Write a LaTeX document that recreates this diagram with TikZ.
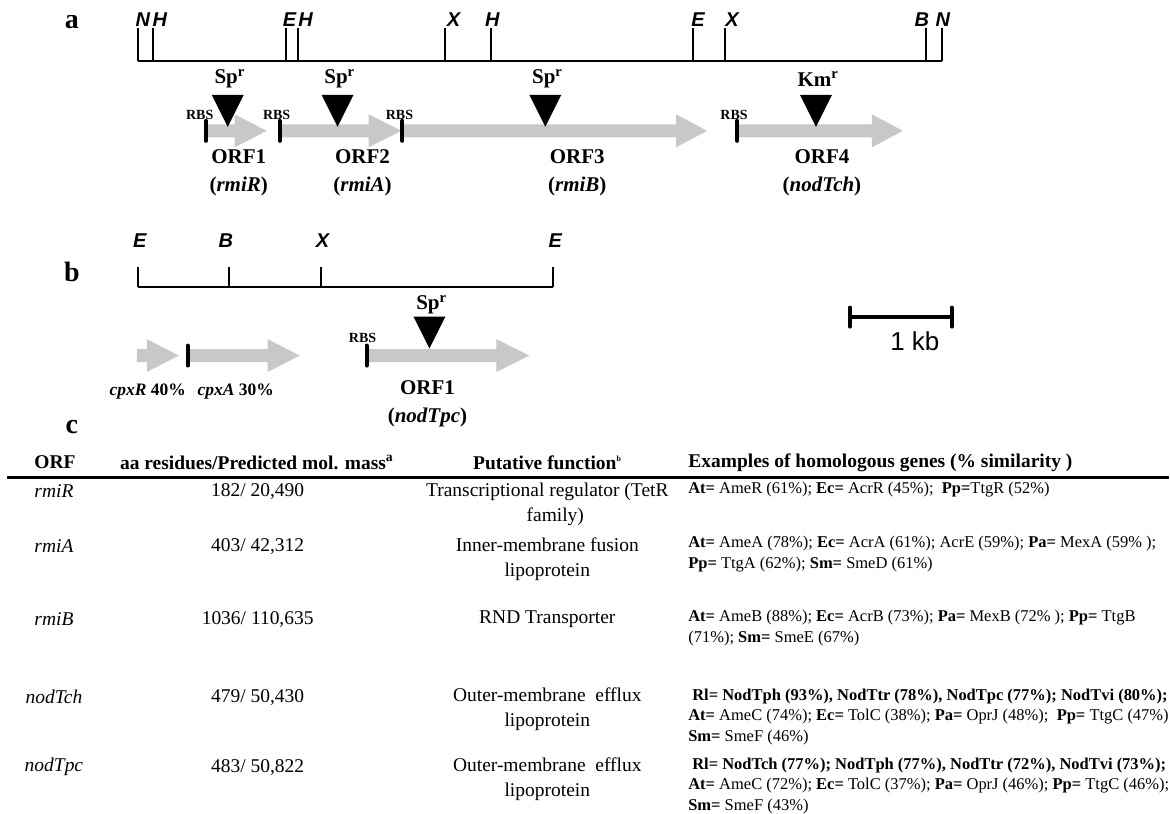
\documentclass[tikz,border=0pt]{standalone}
\usepackage{fontspec}
\setmainfont{Liberation Serif}
\setsansfont{Liberation Sans}
\usetikzlibrary{arrows.meta, positioning}

\definecolor{genegray}{RGB}{200,200,200}

\begin{document}
\begin{tikzpicture}[
        x=1pt, y=-1pt,
        every node/.style={inner sep=0pt},
        panel/.style={font=\bfseries\fontsize{28}{28}\selectfont},
        site/.style={font=\sffamily\bfseries\itshape\fontsize{20}{20}\selectfont},
        map/.style={line width=2pt},
        genefill/.style={fill=genegray},
        rbsbar/.style={line width=4pt, line cap=round},
        rbs/.style={font=\bfseries\fontsize{14}{14}\selectfont},
        insert/.style={fill=black},
        res/.style={font=\bfseries\fontsize{21}{21}\selectfont},
        orf/.style={font=\bfseries\fontsize{21}{28}\selectfont, align=center},
        cpx/.style={font=\bfseries\fontsize{17.5}{17.5}\selectfont},
        head/.style={font=\bfseries\fontsize{19.5}{19.5}\selectfont},
        orfcell/.style={font=\itshape\fontsize{19.5}{25}\selectfont},
        cell/.style={font=\fontsize{19.5}{25}\selectfont, align=center},
        homol/.style={font=\fontsize{16.5}{20.7}\selectfont, align=left, anchor=west}
    ]
    \fill[white] (0,0) rectangle (1170,815);

    % panel a
    \node[panel] (a) at (72,22) {a};
    \draw[map] (138,61) -- (943,61);
    \foreach \x/\lx/\s [count=\i] in {138/143/N, 153/160/H, 286/290/E, 298/306/H, 446/454/X,
            492/493/H, 694/699/E, 726/733/X, 927/923/B, 943/944/N} {
        \draw[map] (\x,61) -- (\x,28);
        \node[site] (siteA\i) at (\lx,20) {\s};
    }
    \foreach \s/\b/\t in {206/235/267, 280/369/402, 403/677/708, 738/873/904}
        \fill[genefill] (\s,124.5) -- (\b,124.5) -- (\b,114.5) -- (\t,131)
            -- (\b,147.5) -- (\b,137.5) -- (\s,137.5) -- cycle;
    \foreach \x/\lab [count=\i] in {228/Sp, 338/Sp, 546/Sp, 817/Km} {
        \fill[insert] (\x,127) -- (\x-16,95) -- (\x+16,95) -- cycle;
        \node[res] (resA\i) at (\x+2,79) {\lab\textsuperscript{r}};
    }
    \foreach \x/\lx [count=\i] in {206/200, 280/277, 403/400, 738/735} {
        \draw[rbsbar] (\x,121) -- (\x,141);
        \node[rbs] (rbsA\i) at (\lx,115) {RBS};
    }
    \node[orf] (orf1) at (239,173) {ORF1\\(\textit{rmiR})};
    \node[orf] (orf2) at (363,173) {ORF2\\(\textit{rmiA})};
    \node[orf] (orf3) at (578,173) {ORF3\\(\textit{rmiB})};
    \node[orf] (orf4) at (823,173) {ORF4\\(\textit{nodTch})};

    % panel b
    \node[panel] (b) at (72,272) {b};
    \draw[map] (138,287) -- (554,287);
    \foreach \x/\lx/\s [count=\i] in {138/140/E, 229/226/B, 321/323/X, 554/556/E} {
        \draw[map] (\x,287) -- (\x,267);
        \node[site] (siteB\i) at (\lx,241) {\s};
    }
    \foreach \s/\b/\t in {137/147/179, 188/268/300, 367/497/530}
        \fill[genefill] (\s,349.5) -- (\b,349.5) -- (\b,339.5) -- (\t,356)
            -- (\b,372.5) -- (\b,362.5) -- (\s,362.5) -- cycle;
    \fill[insert] (430,349) -- (414,317) -- (446,317) -- cycle;
    \node[res] (resB) at (432,305) {Sp\textsuperscript{r}};
    \draw[rbsbar] (188,346) -- (188,366);
    \draw[rbsbar] (367,346) -- (367,366);
    \node[rbs] (rbsB) at (363,338) {RBS};
    \node[cpx] (cpxR) at (148,392) {\textit{cpxR} 40\%};
    \node[cpx] (cpxA) at (236,392) {\textit{cpxA} 30\%};
    \node[orf] (orfB) at (428,404) {ORF1\\(\textit{nodTpc})};

    % scale bar
    \draw[line width=4pt, line cap=round] (851,317) -- (953,317);
    \draw[line width=4pt, line cap=round] (851,308) -- (851,327);
    \draw[line width=4pt, line cap=round] (953,308) -- (953,327);
    \node[font=\sffamily\fontsize{26}{26}\selectfont] (kb) at (916,342) {1 kb};

    % panel c
    \node[panel] (c) at (72,428) {c};
    \node[head] (hOrf) at (55,463) {ORF};
    \node[head] (hMass) at (257,463) {aa residues/Predicted mol. mass\textsuperscript{a}};
    \node[head] (hFun) at (548,463) {Putative function\textsuperscript{\fontsize{8}{8}\selectfont b}};
    \node[head, anchor=west] (hHom) at (689,463) {Examples of homologous genes (\% similarity )};
    \draw[line width=3pt] (7,478) -- (1170,478);

    \node[orfcell] (g1) at (54,492) {rmiR};
    \node[orfcell] (g2) at (54,547) {rmiA};
    \node[orfcell] (g3) at (54,620) {rmiB};
    \node[orfcell] (g4) at (54,698) {nodTch};
    \node[orfcell] (g5) at (54,768) {nodTpc};

    \node[cell] (m1) at (258,492) {182/ 20,490};
    \node[cell] (m2) at (258,547) {403/ 42,312};
    \node[cell] (m3) at (258,620) {1036/ 110,635};
    \node[cell] (m4) at (258,698) {479/ 50,430};
    \node[cell] (m5) at (258,768) {483/ 50,822};

    \node[cell] (f1) at (548,492) {Transcriptional regulator (TetR};
    \node[cell] (f1b) at (556,517) {family)};
    \node[cell] (f2) at (548,559.5) {Inner-membrane fusion\\lipoprotein};
    \node[cell] (f3) at (548,620) {RND Transporter};
    \node[cell] (f4) at (548,710.5) {Outer-membrane\ \ efflux\\lipoprotein};
    \node[cell] (f5) at (548,780.5) {Outer-membrane\ \ efflux\\lipoprotein};

    \node[homol] (h1) at (689,490) {\textbf{At=} AmeR (61\%); \textbf{Ec=} AcrR (45\%);\ \ \textbf{Pp=}TtgR (52\%)};
    \node[homol] (h2) at (689,555) {\textbf{At=} AmeA (78\%); \textbf{Ec=} AcrA (61\%); AcrE (59\%); \textbf{Pa=} MexA (59\% );\\
        \textbf{Pp=} TtgA (62\%); \textbf{Sm=} SmeD (61\%)};
    \node[homol] (h3) at (689,628.5) {\textbf{At=} AmeB (88\%); \textbf{Ec=} AcrB (73\%); \textbf{Pa=} MexB (72\% ); \textbf{Pp=} TtgB\\
        (71\%); \textbf{Sm=} SmeE (67\%)};
    \node[homol] (h4) at (689,717.7) {\hspace*{4pt}\textbf{Rl= NodTph (93\%), NodTtr (78\%), NodTpc (77\%); NodTvi (80\%);}\\
        \textbf{At=} AmeC (74\%); \textbf{Ec=} TolC (38\%); \textbf{Pa=} OprJ (48\%);\ \ \textbf{Pp=} TtgC (47\%)\\
        \textbf{Sm=} SmeF (46\%)};
    \node[homol] (h5) at (689,786.8) {\hspace*{4pt}\textbf{Rl= NodTch (77\%); NodTph (77\%), NodTtr (72\%), NodTvi (73\%);}\\
        \textbf{At=} AmeC (72\%); \textbf{Ec=} TolC (37\%); \textbf{Pa=} OprJ (46\%); \textbf{Pp=} TtgC (46\%);\\
        \textbf{Sm=} SmeF (43\%)};
\end{tikzpicture}
\end{document}
